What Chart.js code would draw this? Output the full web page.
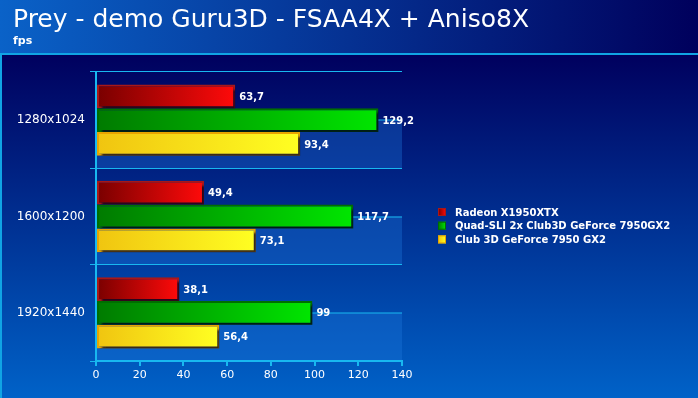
<!DOCTYPE html>
<html>
<head>
<meta charset="utf-8">
<script src="https://cdn.jsdelivr.net/npm/chart.js@4/dist/chart.umd.min.js"></script>
<style>
  html, body { margin: 0; padding: 0; background: #001070; }
  #wrap { width: 698px; height: 398px; }
</style>
</head>
<body>
<div id="wrap"><canvas id="chart" width="698" height="398"></canvas></div>
<script>
// values
const resolutions = ['1280x1024', '1600x1200', '1920x1440'];
const radeonX1950 = [63.7, 49.4, 38.1];
const quadSli7950 = [129.2, 117.7, 99];
const club3d7950 = [93.4, 73.1, 56.4];
const seriesNames = ['Radeon X1950XTX', 'Quad-SLI 2x Club3D GeForce 7950GX2', 'Club 3D GeForce 7950 GX2'];
const xTicks = [0, 20, 40, 60, 80, 100, 120, 140];
const titleText = 'Prey - demo Guru3D - FSAA4X + Aniso8X';
const unitText = 'fps';

const CYAN = '#18b8f0';
const barColors = [
    { dark: '#780000', light: '#ff0a0a', border: '#a81818' },
    { dark: '#007a00', light: '#00e600', border: '#006e00' },
    { dark: '#f0c410', light: '#ffff22', border: '#e8a400' }
];

function barGradient(i) {
    return (ctx) => {
        const chart = ctx.chart;
        if (!chart.chartArea || ctx.type !== 'data') return barColors[i].light;
        const x = chart.scales.x;
        const x0 = x.getPixelForValue(0);
        const x1 = x.getPixelForValue(ctx.raw);
        const g = chart.ctx.createLinearGradient(x0, 0, Math.max(x1, x0 + 1), 0);
        g.addColorStop(0, barColors[i].dark);
        g.addColorStop(1, barColors[i].light);
        return g;
    };
}

// page backgrounds, half-band fills, middle lines, title, labels and legend
const backdrop = {
    id: 'backdrop',
    beforeDraw(chart) {
        const { ctx, width, height, chartArea: area, scales } = chart;
        ctx.save();
        let g = ctx.createLinearGradient(0, 54, 0, height);
        g.addColorStop(0, '#00005e');
        g.addColorStop(1, '#0062c8');
        ctx.fillStyle = g;
        ctx.fillRect(0, 0, width, height);

        g = ctx.createLinearGradient(0, 0, width, 0);
        g.addColorStop(0, '#0a62c8');
        g.addColorStop(1, '#00005c');
        ctx.fillStyle = g;
        ctx.fillRect(0, 0, width, 53);

        ctx.fillStyle = '#10a4e4';
        ctx.fillRect(0, 53, width, 2);
        ctx.fillRect(0, 55, 2, height - 55);

        // title + unit
        ctx.fillStyle = '#ffffff';
        ctx.textBaseline = 'alphabetic';
        ctx.font = '25px "DejaVu Sans"';
        ctx.fillText(titleText, 13, 27);
        ctx.font = 'bold 11px "DejaVu Sans"';
        ctx.fillText(unitText, 13, 44);

        const y = scales.y;
        const half = (y.getPixelForValue(1) - y.getPixelForValue(0)) / 2;
        resolutions.forEach((r, i) => {
            const c = y.getPixelForValue(i);
            ctx.fillStyle = 'rgba(30, 120, 220, 0.35)';
            ctx.fillRect(area.left, c, area.right - area.left, half);
            ctx.fillStyle = CYAN;
            ctx.fillRect(area.left, Math.round(c) - 0.5, area.right - area.left, 1);
        });
        ctx.restore();
    },
    beforeDatasetsDraw(chart) {
        const ctx = chart.ctx;
        ctx.save();
        ctx.shadowColor = 'rgba(0, 0, 30, 0.75)';
        ctx.shadowOffsetX = 3;
        ctx.shadowOffsetY = 3;
        ctx.shadowBlur = 2;
    },
    afterDatasetsDraw(chart) {
        const ctx = chart.ctx;
        ctx.restore();
        ctx.save();
        ctx.fillStyle = '#ffffff';
        ctx.font = 'bold 10px "DejaVu Sans"';
        ctx.textBaseline = 'middle';
        chart.data.datasets.forEach((ds, i) => {
            chart.getDatasetMeta(i).data.forEach((bar, j) => {
                const txt = String(ds.data[j]).replace('.', ',');
                ctx.fillText(txt, bar.x + 4, bar.y + 1);
            });
        });

        // legend
        const lx = 438;
        const ly = 212;
        seriesNames.forEach((name, i) => {
            const yy = ly + i * 13.7;
            const g = ctx.createLinearGradient(lx, 0, lx + 8, 0);
            g.addColorStop(0, barColors[i].dark);
            g.addColorStop(1, barColors[i].light);
            ctx.fillStyle = g;
            ctx.fillRect(lx, yy - 4, 8, 8);
            ctx.strokeStyle = barColors[i].border;
            ctx.lineWidth = 1;
            ctx.strokeRect(lx + 0.5, yy - 3.5, 7, 7);
            ctx.fillStyle = '#ffffff';
            ctx.fillText(name, lx + 17, yy + 1);
        });
        ctx.restore();
    }
};

new Chart(document.getElementById('chart'), {
    type: 'bar',
    data: {
        labels: resolutions,
        datasets: [radeonX1950, quadSli7950, club3d7950].map((d, i) => ({
            label: seriesNames[i],
            data: d,
            backgroundColor: barGradient(i),
            borderColor: barColors[i].border,
            borderWidth: 2,
            borderSkipped: false,
            categoryPercentage: 0.74,
            barPercentage: 1.0
        }))
    },
    options: {
        indexAxis: 'y',
        responsive: false,
        animation: false,
        layout: { padding: { left: 13, right: 296, top: 72, bottom: 0 } },
        plugins: {
            legend: { display: false },
            tooltip: { enabled: false },
            title: { display: false }
        },
        scales: {
            x: {
                min: 0,
                max: 140,
                afterBuildTicks: (s) => { s.ticks = xTicks.map(v => ({ value: v })); },
                afterFit: (s) => { s.height = 37; },
                grid: { drawOnChartArea: false, color: CYAN, tickLength: 5, lineWidth: 2 },
                border: { color: CYAN, width: 2 },
                ticks: { color: '#ffffff', font: { family: 'DejaVu Sans', size: 11 }, padding: 3 }
            },
            y: {
                afterFit: (s) => { s.width = 83; },
                grid: { color: CYAN, tickLength: 6, lineWidth: 1 },
                border: { color: CYAN, width: 2 },
                ticks: { color: '#ffffff', font: { family: 'DejaVu Sans', size: 12 }, padding: 5 }
            }
        }
    },
    plugins: [backdrop]
});
</script>
</body>
</html>
